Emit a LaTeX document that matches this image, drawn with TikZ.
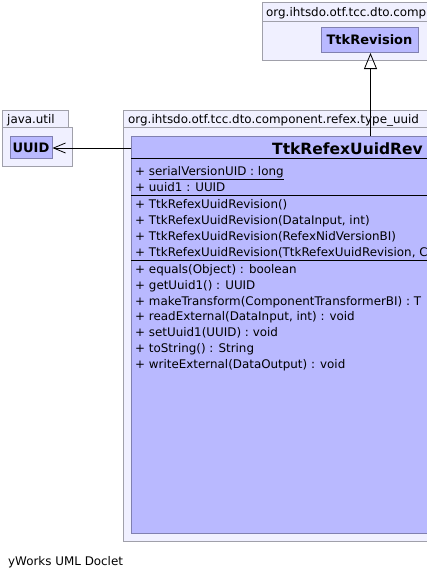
\documentclass[tikz,border=0pt]{standalone}
\usepackage{fontspec}
\setmainfont{DejaVu Sans}
\usetikzlibrary{arrows.meta}
\definecolor{pkgfill}{RGB}{240,240,255}
\definecolor{pkgline}{RGB}{160,160,170}
\definecolor{clsfill}{RGB}{185,185,255}
\definecolor{clsline}{RGB}{128,128,176}
\tikzset{
  pkg/.style={draw=pkgline, fill=pkgfill, line width=0.8pt},
  cls/.style={draw=clsline, fill=clsfill, line width=1pt},
  txt/.style={anchor=base west, inner sep=0pt, font=\fontsize{11.9}{14}\selectfont},
  sep/.style={draw=black, line width=0.8pt}
}
\begin{document}
\begin{tikzpicture}[x=1pt,y=-1pt]
\useasboundingbox (0,0) rectangle (427,579);
\clip (0,0) rectangle (427,579);
% top package
\draw[pkg] (262,2) rectangle (440,21);
\draw[pkg] (262,21) rectangle (440,60);
\node[txt] (ptop) at (266,16) {org.ihtsdo.otf.tcc.dto.comp};
\node[cls, minimum width=97pt, minimum height=25pt, inner sep=0pt, font=\fontsize{13}{15}\selectfont\bfseries] (rev) at (369.5,40) {TtkRevision};
% java.util package
\draw[pkg] (2,110) rectangle (68,127);
\draw[pkg] (2,127) rectangle (72,166);
\node[txt] (pju) at (7,123) {java.util};
\node[cls, minimum width=42pt, minimum height=22pt, inner sep=0pt, font=\fontsize{13}{15}\selectfont\bfseries] (uuid) at (31,147.5) {UUID};
% main package
\draw[pkg] (123,110) rectangle (440,127);
\draw[pkg] (123,127) rectangle (440,541);
\node[txt] (pmain) at (128,123) {org.ihtsdo.otf.tcc.dto.component.refex.type\_uuid};
% class
\draw[cls] (131,136) rectangle (450,533);
\coordinate (clsleft) at (131,148);
\coordinate (clstop) at (370.5,136);
\node[anchor=base west, inner sep=0pt, font=\fontsize{15.5}{18}\selectfont\bfseries] (title) at (272,154) {TtkRefexUuidRev};
\draw[sep] (131,158.5) -- (450,158.5);
\node[txt] (a1) at (135,175) {+ \underline{serialVersionUID : long}};
\node[txt] (a2) at (135,191) {+ uuid1 : UUID};
\draw[sep] (131,195.5) -- (450,195.5);
\node[txt] (c1) at (135,208) {+ TtkRefexUuidRevision()};
\node[txt] (c2) at (135,224) {+ TtkRefexUuidRevision(DataInput, int)};
\node[txt] (c3) at (135,240) {+ TtkRefexUuidRevision(RefexNidVersionBI)};
\node[txt] (c4) at (135,256) {+ TtkRefexUuidRevision(TtkRefexUuidRevision, C};
\draw[sep] (131,260.5) -- (450,260.5);
\node[txt] (m1) at (135,273) {+ equals(Object) : boolean};
\node[txt] (m2) at (135,289) {+ getUuid1() : UUID};
\node[txt] (m3) at (135,305) {+ makeTransform(ComponentTransformerBI) : T};
\node[txt] (m4) at (135,320) {+ readExternal(DataInput, int) : void};
\node[txt] (m5) at (135,336) {+ setUuid1(UUID) : void};
\node[txt] (m6) at (135,352) {+ toString() : String};
\node[txt] (m7) at (135,368) {+ writeExternal(DataOutput) : void};
% connectors
\draw[line width=0.8pt, -{Triangle[open, width=13pt, length=16pt, line width=0.8pt]}] (clstop) -- (rev.south -| clstop);
\draw[line width=0.8pt, -{Straight Barb[width=10pt, length=12pt, line width=0.8pt]}] (clsleft) -- (uuid.east |- clsleft);
% footer
\node[txt] (foot) at (8,565) {yWorks UML Doclet};
\end{tikzpicture}
\end{document}
